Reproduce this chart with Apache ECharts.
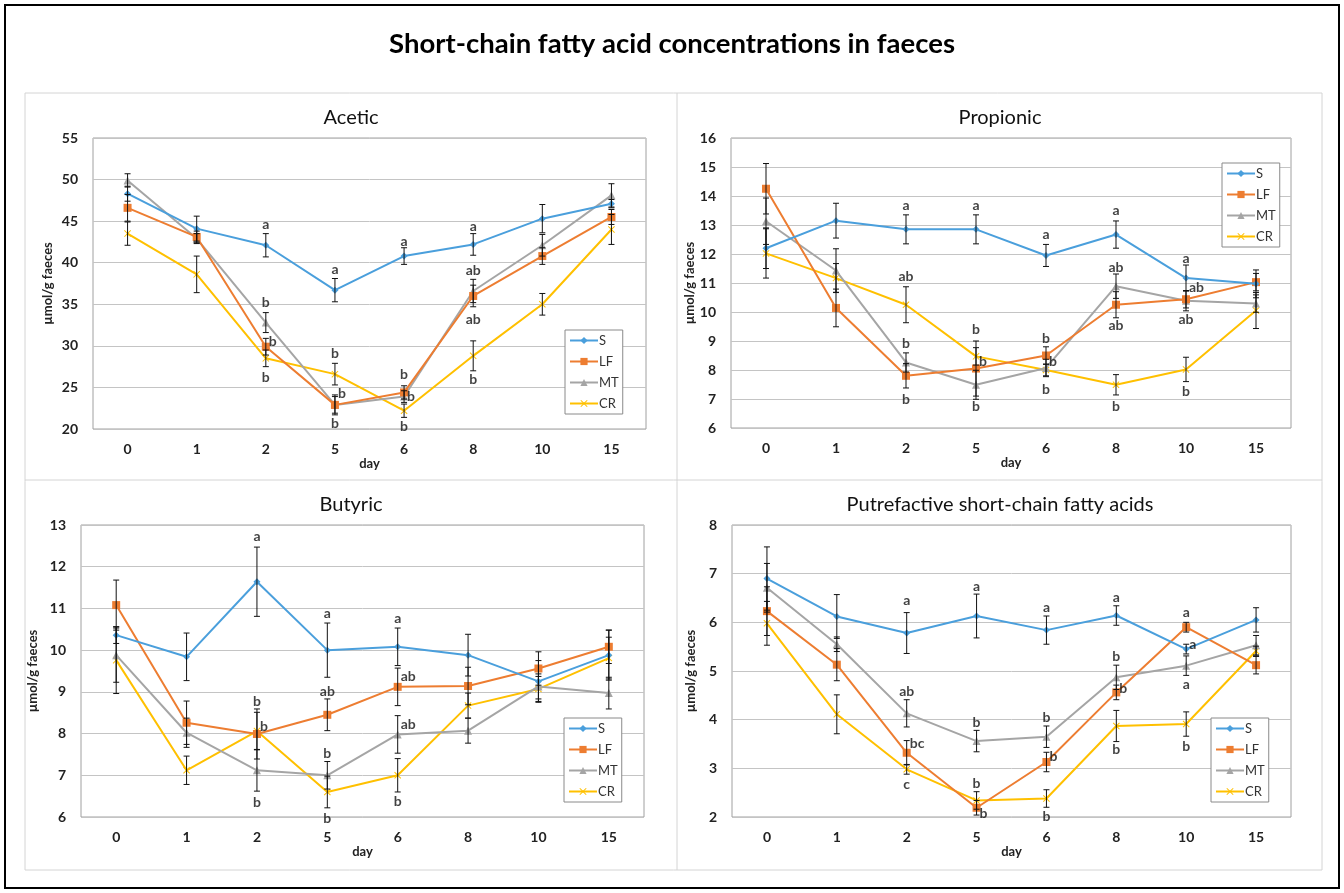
<!DOCTYPE html>
<html>
<head>
<meta charset="utf-8">
<script src="https://cdn.jsdelivr.net/npm/echarts@6/dist/echarts.min.js"></script>
<style>html,body{margin:0;padding:0;background:#fff}#c{width:1344px;height:893px}</style>
</head>
<body>
<div id="c"></div>
<script>
// ---------- data ----------
const days = ['0','1','2','5','6','8','10','15'];
const groups = ['S','LF','MT','CR'];
const mainTitle = 'Short-chain fatty acid concentrations in faeces';
const panelTitles = ['Acetic','Propionic','Butyric','Putrefactive short-chain fatty acids'];
const yName = 'µmol/g faeces';
const xName = 'day';

// axis ranges [min, max, step]
const acAxis = [20, 55, 5];
const prAxis = [6, 16, 1];
const buAxis = [6, 13, 1];
const puAxis = [2, 8, 1];

// Acetic
const acS  = [48.3, 44.1, 42.1, 36.7, 40.8, 42.2, 45.3, 47.1];
const acLF = [46.6, 43.1, 29.9, 22.9, 24.4, 36.0, 40.8, 45.5];
const acMT = [49.9, 42.9, 32.8, 22.9, 23.9, 36.6, 42.1, 48.1];
const acCR = [43.5, 38.6, 28.5, 26.6, 22.2, 28.8, 35.0, 44.0];
const acSe  = [0.9, 1.5, 1.4, 1.4, 1.0, 1.3, 1.7, 0.5];
const acLFe = [1.6, 0.7, 1.0, 1.2, 0.8, 1.3, 1.0, 0.9];
const acMTe = [0.8, 0.6, 1.2, 1.0, 0.7, 1.4, 1.3, 1.4];
const acCRe = [1.4, 2.2, 1.0, 1.3, 0.8, 1.8, 1.3, 1.8];
const acLetters = [[2,44.6,'a'],[2,35.2,'b'],[2,26.2,'b'],[3,39.2,'a'],[3,29.1,'b'],[3,20.7,'b'],[4,42.6,'a'],[4,26.5,'b'],[4,20.3,'b'],[5,44.4,'a'],[5,39.1,'ab'],[5,33.2,'ab'],[5,25.9,'b']];
const acLettersSide = [[2,30.5,'b'],[3,24.3,'b'],[4,23.9,'b']];

// Propionic
const prS  = [12.2, 13.15, 12.85, 12.85, 11.95, 12.67, 11.17, 10.97];
const prLF = [14.25, 10.14, 7.8, 8.05, 8.5, 10.25, 10.44, 11.03];
const prMT = [13.13, 11.43, 8.26, 7.49, 8.07, 10.89, 10.39, 10.29];
const prCR = [12.02, 11.17, 10.25, 8.47, 8.0, 7.49, 8.02, 10.05];
const prSe  = [0.7, 0.6, 0.5, 0.5, 0.38, 0.47, 0.45, 0.48];
const prLFe = [0.87, 0.65, 0.42, 0.95, 0.3, 0.45, 0.3, 0.3];
const prMTe = [0.8, 0.75, 0.33, 0.5, 0.3, 0.42, 0.35, 0.3];
const prCRe = [0.85, 0.5, 0.62, 0.3, 0.2, 0.35, 0.42, 0.62];
const prLetters = [[2,13.67,'a'],[2,11.23,'ab'],[2,8.9,'b'],[2,6.98,'b'],[3,13.67,'a'],[3,9.39,'b'],[3,6.75,'b'],[4,12.67,'a'],[4,9.1,'b'],[4,7.32,'b'],[5,13.49,'a'],[5,11.54,'ab'],[5,9.53,'ab'],[5,6.75,'b'],[6,11.86,'a'],[6,9.74,'ab'],[6,7.26,'b']];
const prLettersSide = [[3,8.3,'b'],[4,8.3,'b'],[6,10.83,'ab']];

// Butyric
const buS  = [10.36, 9.84, 11.64, 10.0, 10.08, 9.88, 9.25, 9.88];
const buLF = [11.08, 8.26, 7.99, 8.45, 9.12, 9.14, 9.56, 10.08];
const buMT = [9.88, 8.02, 7.12, 7.0, 7.98, 8.07, 9.13, 8.97];
const buCR = [9.76, 7.12, 8.06, 6.6, 7.0, 8.67, 9.07, 9.81];
const buSe  = [0.2, 0.57, 0.83, 0.65, 0.45, 0.5, 0.5, 0.6];
const buLFe = [0.6, 0.52, 0.6, 0.38, 0.45, 0.45, 0.4, 0.4];
const buMTe = [0.65, 0.35, 0.5, 0.33, 0.45, 0.3, 0.3, 0.38];
const buCRe = [0.8, 0.34, 0.45, 0.38, 0.4, 0.3, 0.3, 0.5];
const buLetters = [[2,12.72,'a'],[2,8.76,'b'],[2,6.34,'b'],[3,10.87,'a'],[3,9.01,'ab'],[3,7.52,'b'],[3,5.97,'b'],[4,10.77,'a'],[4,6.37,'b']];
const buLettersSide = [[2,8.18,'b'],[4,9.36,'ab'],[4,8.22,'ab']];

// Putrefactive
const puS  = [6.9, 6.12, 5.78, 6.13, 5.84, 6.14, 5.45, 6.05];
const puLF = [6.23, 5.13, 3.32, 2.19, 3.13, 4.56, 5.9, 5.12];
const puMT = [6.71, 5.55, 4.13, 3.56, 3.65, 4.87, 5.11, 5.53];
const puCR = [5.98, 4.11, 2.98, 2.34, 2.38, 3.87, 3.91, 5.41];
const puSe  = [0.65, 0.45, 0.42, 0.45, 0.29, 0.2, 0.1, 0.25];
const puLFe = [0.5, 0.33, 0.25, 0.15, 0.2, 0.15, 0.1, 0.18];
const puMTe = [0.5, 0.15, 0.28, 0.22, 0.22, 0.25, 0.2, 0.2];
const puCRe = [0.45, 0.4, 0.1, 0.18, 0.18, 0.32, 0.25, 0.1];
const puLetters = [[2,6.44,'a'],[2,4.57,'ab'],[2,2.67,'c'],[3,6.73,'a'],[3,3.95,'b'],[3,2.69,'b'],[4,6.31,'a'],[4,4.04,'b'],[4,2.02,'b'],[5,6.51,'a'],[5,5.29,'b'],[5,3.39,'b'],[6,6.2,'a'],[6,4.73,'a'],[6,3.45,'b']];
const puLettersSide = [[2,3.51,'bc'],[3,2.07,'b'],[4,3.25,'b'],[5,4.65,'b'],[6,5.55,'a']];

// ---------- style / layout ----------
const FONT = 'Lato, "Open Sans", sans-serif';
const colors = {S:'#4a9fdc', LF:'#ed7d31', MT:'#a5a5a5', CR:'#ffc000'};
const symbols = {S:'diamond', LF:'rect', MT:'triangle', CR:'path://M1,0L5,4L9,0L10,1L6,5L10,9L9,10L5,6L1,10L0,9L4,5L0,1Z'};
const symSizes = {S:7, LF:8, MT:8, CR:7};

const panels = [
  {axis:acAxis, vals:[acS,acLF,acMT,acCR], errs:[acSe,acLFe,acMTe,acCRe], let:acLetters, side:acLettersSide,
   grid:{left:93, top:138, width:553, height:291}, nameGap:39, legend:{left:565, top:330}, title:[351,118]},
  {axis:prAxis, vals:[prS,prLF,prMT,prCR], errs:[prSe,prLFe,prMTe,prCRe], let:prLetters, side:prLettersSide,
   grid:{left:731, top:138, width:560, height:290}, nameGap:35, legend:{left:1222, top:163}, title:[1000,118]},
  {axis:buAxis, vals:[buS,buLF,buMT,buCR], errs:[buSe,buLFe,buMTe,buCRe], let:buLetters, side:buLettersSide,
   grid:{left:81, top:525, width:563, height:292}, nameGap:42, legend:{left:564, top:718}, title:[351,505]},
  {axis:puAxis, vals:[puS,puLF,puMT,puCR], errs:[puSe,puLFe,puMTe,puCRe], let:puLetters, side:puLettersSide,
   grid:{left:732, top:525, width:559, height:292}, nameGap:35, legend:{left:1211, top:718}, title:[1000,505]}
];

function renderErr(params, api) {
  const x = api.value(0), lo = api.value(1), hi = api.value(2);
  const p1 = api.coord([x, hi]), p2 = api.coord([x, lo]);
  const h = 3;
  const st = {stroke:'#111', lineWidth:1};
  return {type:'group', children:[
    {type:'line', shape:{x1:p1[0], y1:p1[1], x2:p2[0], y2:p2[1]}, style:st},
    {type:'line', shape:{x1:p1[0]-h, y1:p1[1], x2:p1[0]+h, y2:p1[1]}, style:st},
    {type:'line', shape:{x1:p2[0]-h, y1:p2[1], x2:p2[0]+h, y2:p2[1]}, style:st}
  ]};
}

const grids = [], xAxes = [], yAxes = [], series = [], legends = [];
const graphics = [
  {type:'rect', shape:{x:5, y:5, width:1334, height:883}, style:{fill:'none', stroke:'#000', lineWidth:2}, z:-10},
  {type:'rect', shape:{x:25, y:93, width:1297, height:777}, style:{fill:'none', stroke:'#d4d4d4', lineWidth:1}, z:-10},
  {type:'line', shape:{x1:677, y1:93, x2:677, y2:870}, style:{stroke:'#d4d4d4', lineWidth:1}, z:-10},
  {type:'line', shape:{x1:25, y1:480, x2:1322, y2:480}, style:{stroke:'#d4d4d4', lineWidth:1}, z:-10},
  {type:'text', x:672, y:44, style:{text:mainTitle, font:'bold 27.5px ' + FONT, fill:'#000', textAlign:'center', textVerticalAlign:'middle'}}
];

panels.forEach((p, k) => {
  grids.push(Object.assign({show:true, borderColor:'#a0a0a0', borderWidth:1, backgroundColor:'transparent'}, p.grid));
  xAxes.push({type:'category', gridIndex:k, data:days, boundaryGap:true,
    axisLine:{show:false}, axisTick:{show:false},
    axisLabel:{fontFamily:FONT, fontWeight:'bold', fontSize:14, color:'#222', margin:13},
    name:xName, nameLocation:'middle', nameGap:26,
    nameTextStyle:{fontFamily:FONT, fontWeight:'bold', fontSize:13, color:'#222'}});
  yAxes.push({type:'value', gridIndex:k, min:p.axis[0], max:p.axis[1], interval:p.axis[2],
    axisLine:{show:false}, axisTick:{show:false},
    splitLine:{lineStyle:{color:'#c4c4c4', width:1}},
    axisLabel:{fontFamily:FONT, fontWeight:'bold', fontSize:14, color:'#222', margin:15},
    name:yName, nameLocation:'middle', nameRotate:90, nameGap:p.nameGap,
    nameTextStyle:{fontFamily:FONT, fontWeight:'bold', fontSize:13, color:'#222'}});
  graphics.push({type:'text', x:p.title[0], y:p.title[1],
    style:{text:panelTitles[k], font:'20px ' + FONT, fill:'#111', textAlign:'center', textVerticalAlign:'middle'}});

  groups.forEach((g, j) => {
    series.push({name:g, type:'line', xAxisIndex:k, yAxisIndex:k, data:p.vals[j],
      symbol:symbols[g], symbolSize:symSizes[g], showAllSymbol:true,
      lineStyle:{color:colors[g], width:2}, itemStyle:{color:colors[g]}, z:3 + (groups.length - j) * 0.1});
  });
  const errData = [];
  groups.forEach((g, j) => {
    p.vals[j].forEach((v, i) => errData.push([i, v - p.errs[j][i], v + p.errs[j][i]]));
  });
  series.push({type:'custom', name:'err' + k, xAxisIndex:k, yAxisIndex:k, data:errData,
    renderItem:renderErr, encode:{x:0, y:[1,2]}, silent:true, z:5});
  series.push({type:'scatter', name:'lc' + k, xAxisIndex:k, yAxisIndex:k, data:p.let, symbolSize:0, clip:false, silent:true, z:6,
    label:{show:true, position:'inside', formatter:q => q.data[2], fontFamily:FONT, fontWeight:'bold', fontSize:14, color:'#111'}});
  series.push({type:'scatter', name:'ls' + k, xAxisIndex:k, yAxisIndex:k, data:p.side, symbolSize:0, clip:false, silent:true, z:6,
    label:{show:true, position:'right', distance:3, formatter:q => q.data[2], fontFamily:FONT, fontWeight:'bold', fontSize:14, color:'#111'}});

  legends.push({data:groups, orient:'vertical', left:p.legend.left, top:p.legend.top,
    backgroundColor:'#fff', borderColor:'#8a8a8a', borderWidth:1, padding:[3,4,3,4],
    itemWidth:28, itemHeight:9, itemGap:6, selectedMode:false,
    textStyle:{fontFamily:FONT, fontSize:13, color:'#333', lineHeight:15, padding:[0,0,0,-4]}});
});

const chart = echarts.init(document.getElementById('c'), null, {renderer:'canvas'});
chart.setOption({
  animation:false,
  backgroundColor:'#fff',
  grid:grids, xAxis:xAxes, yAxis:yAxes, series:series, legend:legends, graphic:graphics
});
</script>
</body>
</html>
